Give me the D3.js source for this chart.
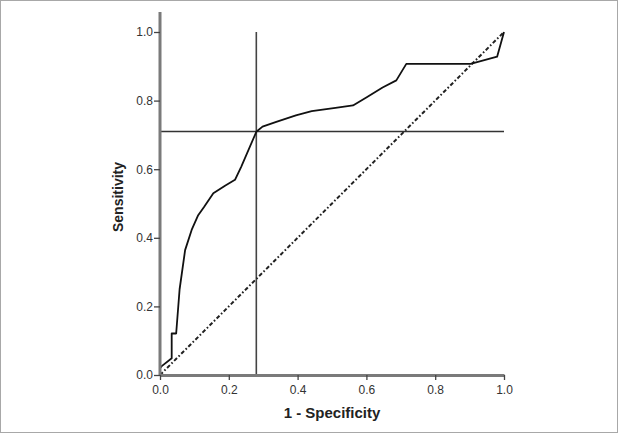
<!DOCTYPE html>
<html>
<head>
<meta charset="utf-8">
<script src="https://cdn.jsdelivr.net/npm/d3@7"></script>
<style>
	body { margin: 0; background: #fff; }
	svg { display: block; }
	.tick text { font-family: "Liberation Sans", Arial, sans-serif; font-size: 12px; fill: #333; }
</style>
</head>
<body>
<script>
// ROC curve points: 1 - specificity (fpr) and sensitivity (tpr)
var fpr = [0, 0, 0.005, 0.034, 0.034, 0.047, 0.057, 0.073, 0.092, 0.111, 0.128, 0.155, 0.189, 0.218, 0.236, 0.28, 0.298, 0.338, 0.395, 0.441, 0.51, 0.561, 0.601, 0.647, 0.687, 0.716, 0.8, 0.903, 0.98, 1.0];
var tpr = [0, 0.02, 0.026, 0.049, 0.121, 0.121, 0.25, 0.364, 0.423, 0.466, 0.49, 0.53, 0.552, 0.569, 0.607, 0.709, 0.724, 0.738, 0.757, 0.769, 0.779, 0.786, 0.81, 0.838, 0.859, 0.907, 0.907, 0.907, 0.928, 1.0];
var cutoff = [0.28, 0.71];
var tickVals = [0, 0.2, 0.4, 0.6, 0.8, 1.0];

var svg = d3.select("body").append("svg")
	.attr("width", 618)
	.attr("height", 433);

// light frame round the figure
svg.append("rect")
	.attr("x", 0.5).attr("y", 0.5)
	.attr("width", 617).attr("height", 432)
	.attr("fill", "#fff")
	.attr("stroke", "#a8a8a8");

var x = d3.scaleLinear().domain([0, 1]).range([160, 504]);
var y = d3.scaleLinear().domain([0, 1]).range([375, 32]);

var g = svg.append("g");

// reference lines at the chosen cut-off
g.append("line")
	.attr("x1", x(cutoff[0])).attr("x2", x(cutoff[0]))
	.attr("y1", y(0)).attr("y2", y(1))
	.attr("stroke", "#444").attr("stroke-width", 1.6);
g.append("line")
	.attr("x1", x(0)).attr("x2", x(1))
	.attr("y1", y(cutoff[1])).attr("y2", y(cutoff[1]))
	.attr("stroke", "#333").attr("stroke-width", 1.4);

// chance diagonal
g.append("line")
	.attr("x1", x(0)).attr("y1", y(0))
	.attr("x2", x(1)).attr("y2", y(1))
	.attr("stroke", "#222").attr("stroke-width", 2)
	.attr("stroke-dasharray", "4,2.2,1.6,2.2");

// roc curve
var line = d3.line()
	.x(function(d){return x(d[0]);})
	.y(function(d){return y(d[1]);});
g.append("path")
	.datum(d3.zip(fpr, tpr))
	.attr("d", line)
	.attr("fill", "none")
	.attr("stroke", "#111")
	.attr("stroke-width", 1.8)
	.attr("stroke-linejoin", "round");

// axes
var xAxis = svg.append("g")
	.attr("transform", "translate(0," + y(0) + ")")
	.call(d3.axisBottom(x).tickValues(tickVals).tickFormat(d3.format(".1f")).tickSize(5).tickSizeOuter(0));
var yAxis = svg.append("g")
	.attr("transform", "translate(" + x(0) + ",0)")
	.call(d3.axisLeft(y).tickValues(tickVals).tickFormat(d3.format(".1f")).tickSize(6).tickSizeOuter(0));

[xAxis, yAxis].forEach(function(a){
	a.select(".domain").attr("stroke", "#7a7a7a").attr("stroke-width", 3);
	a.selectAll(".tick line").attr("stroke", "#444").attr("stroke-width", 1.3);
});
xAxis.selectAll(".tick text").attr("dy", "0.9em");
yAxis.selectAll(".tick text").attr("x", -7);
// y axis runs a little above 1.0
yAxis.select(".domain").attr("d", "M0," + y(0) + "V12");

svg.append("text")
	.attr("x", 332).attr("y", 418)
	.attr("text-anchor", "middle")
	.attr("font-family", "Liberation Sans, Arial, sans-serif")
	.attr("font-size", 15).attr("font-weight", "bold").attr("fill", "#222")
	.text("1 - Specificity");

svg.append("text")
	.attr("transform", "translate(123,197) rotate(-90)")
	.attr("text-anchor", "middle")
	.attr("font-family", "Liberation Sans, Arial, sans-serif")
	.attr("font-size", 14).attr("font-weight", "bold").attr("fill", "#222")
	.text("Sensitivity");
</script>
</body>
</html>
